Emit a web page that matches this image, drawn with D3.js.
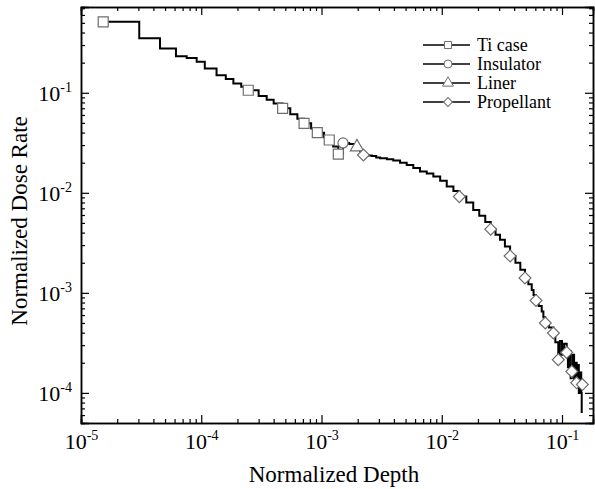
<!DOCTYPE html>
<html>
<head>
<meta charset="utf-8">
<script src="https://cdn.jsdelivr.net/npm/d3@7"></script>
<style>
  body { margin: 0; background: #fff; }
  svg { display: block; }
  text { font-family: "Liberation Serif", "Times New Roman", serif; fill: #000; }
</style>
</head>
<body>
<div id="chart"></div>
<script>
// Ti case (stepped line, square markers)
const tiX = [1.53e-5, 3.05e-5, 4.54e-5, 6.16e-5, 7.57e-5, 9.16e-5, 1.07e-4, 1.34e-4, 1.6e-4, 1.85e-4,
  2.15e-4, 2.46e-4, 3.0e-4, 3.5e-4, 4.0e-4, 4.75e-4, 5.5e-4, 6.3e-4, 7.16e-4, 8.2e-4, 9.23e-4,
  1.05e-3, 1.16e-3, 1.25e-3, 1.38e-3];
const tiY = [0.512, 0.35, 0.277, 0.232, 0.222, 0.204, 0.175, 0.150, 0.137, 0.124,
  0.115, 0.106, 0.093, 0.085, 0.078, 0.0699, 0.061, 0.055, 0.0495, 0.044, 0.0399,
  0.036, 0.0337, 0.029, 0.0244];
const tiMarkX = [1.53e-5, 2.46e-4, 4.75e-4, 7.16e-4, 9.23e-4, 1.16e-3, 1.38e-3];
const tiMarkY = [0.512, 0.106, 0.0699, 0.0495, 0.0399, 0.0337, 0.0244];

// Insulator
const insX = [1.51e-3, 1.7e-3, 1.9e-3];
const insY = [0.0315, 0.0308, 0.0295];
const insMarkX = [1.51e-3];
const insMarkY = [0.0315];

// Liner
const linX = [1.97e-3, 2.1e-3];
const linY = [0.0287, 0.026];
const linMarkX = [1.97e-3];
const linMarkY = [0.0287];

// Propellant
const proX = [2.23e-3, 2.45e-3, 2.62e-3, 2.85e-3, 3.07e-3, 3.5e-3, 3.95e-3, 4.5e-3, 5.11e-3, 5.8e-3,
  6.59e-3, 7.5e-3, 8.51e-3, 9.7e-3, 0.011, 0.0125, 0.014, 0.016, 0.01827, 0.0205,
  0.023, 0.02553, 0.028, 0.0305, 0.0335, 0.037, 0.041, 0.045, 0.0492, 0.0525,
  0.056, 0.058, 0.0608, 0.064, 0.0678, 0.070, 0.0726, 0.078, 0.0848, 0.088,
  0.0931, 0.096, 0.1, 0.104, 0.1094, 0.112, 0.115, 0.118, 0.1206, 0.123,
  0.126, 0.129, 0.1324, 0.135, 0.138, 0.141, 0.1445, 0.1458];
const proY = [0.0239, 0.0236, 0.0233, 0.0226, 0.0221, 0.0216, 0.0210, 0.0200, 0.0190, 0.0177,
  0.0163, 0.0156, 0.01452, 0.0132, 0.01153, 0.0104, 0.00916, 0.0080, 0.00675, 0.0059,
  0.0051, 0.00433, 0.0038, 0.00339, 0.0029, 0.00234, 0.0020, 0.0017, 0.00141, 0.00122,
  0.00107, 0.00095, 0.00084, 0.00074, 0.000652, 0.00057, 0.0005, 0.00045, 0.000397, 0.00032,
  0.000215, 0.00033, 0.00024, 0.00031, 0.000254, 0.00018, 0.00026, 0.00014, 0.000164, 0.00024,
  0.00012, 0.0002, 0.000126, 0.00019, 0.0001, 0.00016, 0.0001, 6.3e-5];
const proMarkX = [2.23e-3, 0.0140, 0.02553, 0.0370, 0.0492, 0.0608, 0.0726, 0.0848, 0.0931, 0.1094, 0.1206, 0.1324, 0.1476];
const proMarkY = [0.0239, 0.00916, 0.00433, 0.00234, 0.00141, 0.00084, 0.0005, 0.000397, 0.000215, 0.000254, 0.000164, 0.000126, 0.000121];

const seriesNames = ["Ti case", "Insulator", "Liner", "Propellant"];
const seriesSymbols = [d3.symbolSquare, d3.symbolCircle, d3.symbolTriangle, d3.symbolSquare];
const seriesRotate = [0, 0, 0, 45];

const xDomain = [1e-5, 0.181];
const yDomain = [5.0e-5, 0.72];
const xMajor = [1e-5, 1e-4, 1e-3, 1e-2, 1e-1];
const xExp = ["-5", "-4", "-3", "-2", "-1"];
const yMajor = [1e-4, 1e-3, 1e-2, 1e-1];
const yExp = ["-4", "-3", "-2", "-1"];

const W = 595, H = 489;
const margin = { top: 7, right: 2, bottom: 66, left: 81 };
const width = W - margin.left - margin.right;
const height = H - margin.top - margin.bottom;

const svg = d3.select("#chart").append("svg")
  .attr("width", W).attr("height", H);
const g = svg.append("g")
  .attr("transform", "translate(" + margin.left + "," + margin.top + ")");

const x = d3.scaleLog().domain(xDomain).range([0, width]);
const y = d3.scaleLog().domain(yDomain).range([height, 0]);

// minor ticks (2..9 in each decade)
function minors(dom) {
  const out = [];
  for (let e = -6; e <= 0; e++) {
    for (let k = 2; k <= 9; k++) {
      const v = k * Math.pow(10, e);
      if (v > dom[0] && v < dom[1]) out.push(v);
    }
  }
  return out;
}
const xMinor = minors(xDomain);
const yMinor = minors(yDomain);

function drawAxis(axisFn, scale, vals, size, transform) {
  const a = g.append("g").attr("transform", transform || null)
    .call(axisFn(scale).tickValues(vals).tickSize(-size).tickFormat(""));
  a.select(".domain").attr("stroke-width", 1.5);
  a.selectAll(".tick line").attr("stroke-width", 1.2);
  return a;
}

// bottom / top
drawAxis(d3.axisBottom, x, xMinor, 4, "translate(0," + height + ")");
const xAx = drawAxis(d3.axisBottom, x, xMajor, 8, "translate(0," + height + ")");
drawAxis(d3.axisTop, x, xMinor, 4);
drawAxis(d3.axisTop, x, xMajor, 8);
// left / right
drawAxis(d3.axisLeft, y, yMinor, 4);
const yAx = drawAxis(d3.axisLeft, y, yMajor, 8);
drawAxis(d3.axisRight, y, yMinor, 4, "translate(" + width + ",0)");
drawAxis(d3.axisRight, y, yMajor, 8, "translate(" + width + ",0)");

// tick labels 10^n
xAx.selectAll(".tick").each(function (d, i) {
  const t = d3.select(this).append("text")
    .attr("y", 26).attr("text-anchor", "middle")
    .style("font-size", "22px");
  t.append("tspan").text("10");
  t.append("tspan").attr("dy", -9).style("font-size", "14px").text(xExp[i]);
});
yAx.selectAll(".tick").each(function (d, i) {
  const t = d3.select(this).append("text")
    .attr("x", -9).attr("y", 7.5).attr("text-anchor", "end")
    .style("font-size", "22px");
  t.append("tspan").text("10");
  t.append("tspan").attr("dy", -9).style("font-size", "14px").text(yExp[i]);
});

// axis titles
g.append("text")
  .attr("x", 334 - margin.left).attr("y", height + 59)
  .attr("text-anchor", "middle").style("font-size", "23px")
  .text("Normalized Depth");
g.append("text")
  .attr("transform", "translate(" + (27 - margin.left) + "," + (221 - margin.top) + ") rotate(-90)")
  .attr("text-anchor", "middle").style("font-size", "23px")
  .text("Normalized Dose Rate");

// lines
const line = d3.line()
  .x(d => x(d[0])).y(d => y(d[1]))
  .curve(d3.curveStepAfter);

const lines = [
  [tiX, tiY], [insX, insY], [linX, linY], [proX, proY]
];
const marks = [
  [tiMarkX, tiMarkY], [insMarkX, insMarkY], [linMarkX, linMarkY], [proMarkX, proMarkY]
];

// join consecutive series so the curve is continuous
lines.forEach((s, i) => {
  const pts = d3.zip(s[0], s[1]);
  if (i < lines.length - 1) pts.push([lines[i + 1][0][0], lines[i + 1][1][0]]);
  g.append("path")
    .datum(pts)
    .attr("fill", "none")
    .attr("stroke", "#000")
    .attr("stroke-width", 2)
    .attr("d", line);
});

const symSize = [100, 80, 75, 70];
marks.forEach((m, i) => {
  g.selectAll(null)
    .data(d3.zip(m[0], m[1]))
    .enter()
    .append("path")
    .attr("transform", d => "translate(" + x(d[0]) + "," + y(d[1]) + ") rotate(" + seriesRotate[i] + ")")
    .attr("d", d3.symbol().type(seriesSymbols[i]).size(symSize[i]))
    .attr("fill", "#fff")
    .attr("stroke", "#6e6e6e")
    .attr("stroke-width", 1.2);
});

// legend
const leg = svg.append("g").attr("transform", "translate(423,45)");
seriesNames.forEach((name, i) => {
  const row = leg.append("g").attr("transform", "translate(0," + (i * 19) + ")");
  row.append("line").attr("x1", 0).attr("x2", 47).attr("y1", 0).attr("y2", 0)
    .attr("stroke", "#000").attr("stroke-width", 1.5);
  row.append("path")
    .attr("transform", "translate(25,0) rotate(" + seriesRotate[i] + ")")
    .attr("d", d3.symbol().type(seriesSymbols[i]).size(i === 3 ? 40 : 50))
    .attr("fill", "#fff").attr("stroke", "#6e6e6e").attr("stroke-width", 1);
  row.append("text").attr("x", 54).attr("y", 6)
    .style("font-size", "18px").text(name);
});
</script>
</body>
</html>
